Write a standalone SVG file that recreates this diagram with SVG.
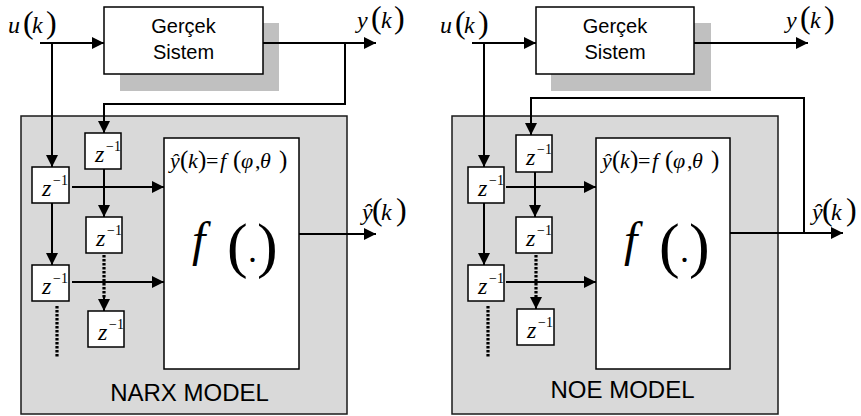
<svg xmlns="http://www.w3.org/2000/svg" width="861" height="416" viewBox="0 0 861 416">
<style>
.bg{fill:#ffffff}
.panel{fill:#d9d9d9;stroke:#1a1a1a;stroke-width:1.5}
.shadow{fill:#c0c0c0}
.box{fill:#ffffff;stroke:#000;stroke-width:1.5}
.ln{fill:none;stroke:#000;stroke-width:2}
.arr{marker-end:url(#ah)}
.dot{fill:none;stroke:#000;stroke-width:3.2;stroke-dasharray:2.4 1.6}
.sans{font-family:"Liberation Sans",Arial,sans-serif;fill:#000}
.mi{font-family:"Liberation Serif","Times New Roman",serif;font-style:italic;fill:#000}
.mu{font-family:"Liberation Serif","Times New Roman",serif;font-style:normal;fill:#000}
.lp{font-size:32px}
.fp{font-size:25px}
</style>
<defs>
<marker id="ah" markerUnits="userSpaceOnUse" markerWidth="12" markerHeight="12" refX="12" refY="6" orient="auto">
<path d="M0,0 L12,6 L0,12 Z" fill="#000"/>
</marker>
</defs>
<rect class="bg" x="0" y="0" width="861" height="416"/>

<!-- LEFT: NARX -->
<g id="narx-panel">
<rect class="panel" x="21" y="116" width="326" height="298"/>
<text class="sans" x="189.5" y="401" font-size="24" text-anchor="middle">NARX MODEL</text>
</g>
<g id="narx-system">
<rect class="shadow" x="120" y="23" width="159" height="68"/>
<rect class="box" x="104" y="7" width="159" height="67"/>
<text class="sans" x="183.5" y="33" font-size="20" text-anchor="middle">Gerçek</text>
<text class="sans" x="183.5" y="59" font-size="20" text-anchor="middle">Sistem</text>
</g>
<g id="narx-u-label">
<text y="33" font-size="24"><tspan class="mi" x="8">u</tspan><tspan class="mu lp" x="23">(</tspan><tspan class="mi" x="32">k</tspan><tspan class="mu lp" x="46">)</tspan></text>
</g>
<g id="narx-y-label">
<text y="28" font-size="24"><tspan class="mi" x="357">y</tspan><tspan class="mu lp" x="371">(</tspan><tspan class="mi" x="381">k</tspan><tspan class="mu lp" x="394">)</tspan></text>
</g>
<g id="narx-yhat-label">
<text y="220" font-size="24"><tspan class="mi" x="362">ŷ</tspan><tspan class="mu lp" x="372">(</tspan><tspan class="mi" x="381">k</tspan><tspan class="mu lp" x="396">)</tspan></text>
</g>

<g id="narx-connectors">
<path class="ln arr" d="M40,43 H104"/>
<path class="ln arr" d="M52,43 V167"/>
<path class="ln arr" d="M263,43 H376"/>
<path class="ln arr" d="M345,43 V104 H104 V133"/>
<path class="ln arr" d="M72,187 H164"/>
<path class="ln arr" d="M72,282 H164"/>
<path class="ln arr" d="M52,203 V265"/>
<path class="ln arr" d="M104,169 V217"/>
<path class="dot" d="M104,255 V300"/>
<path class="ln arr" d="M104,297 V311"/>
<path class="dot" d="M57,306 V357"/>
<path class="ln arr" d="M299,234 H376"/>
</g>

<g id="narx-f">
<rect class="box" x="164" y="138" width="135" height="231"/>
<text y="168" font-size="22"><tspan class="mi" x="170">ŷ</tspan><tspan class="mu fp" x="180">(</tspan><tspan class="mi" x="188">k</tspan><tspan class="mu fp" x="198">)</tspan><tspan class="mu" x="206">=</tspan><tspan class="mi" x="220">f</tspan><tspan class="mu fp" x="233">(</tspan><tspan class="mi" x="241">φ</tspan><tspan class="mu" x="255">,</tspan><tspan class="mi" x="260">θ</tspan><tspan class="mu fp" x="279">)</tspan></text>
<text y="256"><tspan class="mi" font-size="48" x="192">f</tspan><tspan class="mu" font-size="62" x="227" dy="10">(</tspan><tspan class="mu" font-size="36" x="248" dy="-4">.</tspan><tspan class="mu" font-size="62" x="257" dy="4">)</tspan></text>
</g>
<g id="narx-z1">
<rect class="box" x="85" y="133" width="36" height="36"/>
<text class="mi" x="95" y="162" font-size="24">z</text><text class="mu" x="106" y="151" font-size="14">−1</text>
</g>
<g id="narx-z2">
<rect class="box" x="32" y="167" width="37" height="36"/>
<text class="mi" x="42" y="196" font-size="24">z</text><text class="mu" x="53" y="185" font-size="14">−1</text>
</g>
<g id="narx-z3">
<rect class="box" x="86" y="217" width="36" height="36"/>
<text class="mi" x="96" y="246" font-size="24">z</text><text class="mu" x="107" y="235" font-size="14">−1</text>
</g>
<g id="narx-z4">
<rect class="box" x="32" y="265" width="37" height="36"/>
<text class="mi" x="42" y="294" font-size="24">z</text><text class="mu" x="53" y="283" font-size="14">−1</text>
</g>
<g id="narx-z5">
<rect class="box" x="88" y="311" width="36" height="36"/>
<text class="mi" x="98" y="340" font-size="24">z</text><text class="mu" x="109" y="329" font-size="14">−1</text>
</g>

<!-- RIGHT: NOE -->
<g id="noe-panel">
<rect class="panel" x="452" y="116" width="326" height="298"/>
<text class="sans" x="622.5" y="398" font-size="24" text-anchor="middle">NOE MODEL</text>
</g>
<g id="noe-system">
<rect class="shadow" x="551" y="23" width="160" height="68"/>
<rect class="box" x="536" y="7" width="158" height="67"/>
<text class="sans" x="615" y="33" font-size="20" text-anchor="middle">Gerçek</text>
<text class="sans" x="615" y="59" font-size="20" text-anchor="middle">Sistem</text>
</g>
<g id="noe-u-label">
<text y="33" font-size="24"><tspan class="mi" x="440">u</tspan><tspan class="mu lp" x="455">(</tspan><tspan class="mi" x="464">k</tspan><tspan class="mu lp" x="478">)</tspan></text>
</g>
<g id="noe-y-label">
<text y="28" font-size="24"><tspan class="mi" x="786">y</tspan><tspan class="mu lp" x="800">(</tspan><tspan class="mi" x="810">k</tspan><tspan class="mu lp" x="824">)</tspan></text>
</g>
<g id="noe-yhat-label">
<text y="220" font-size="24"><tspan class="mi" x="812">ŷ</tspan><tspan class="mu lp" x="822">(</tspan><tspan class="mi" x="831">k</tspan><tspan class="mu lp" x="846">)</tspan></text>
</g>

<g id="noe-connectors">
<path class="ln arr" d="M472,43 H536"/>
<path class="ln arr" d="M484,43 V167"/>
<path class="ln arr" d="M694,43 H808"/>
<path class="ln arr" d="M804,233 V98 H531 V135"/>
<path class="ln arr" d="M506,187 H596"/>
<path class="ln arr" d="M506,282 H596"/>
<path class="ln arr" d="M484,203 V265"/>
<path class="ln arr" d="M535,172 V217"/>
<path class="dot" d="M536,255 V298"/>
<path class="ln arr" d="M536,295 V309"/>
<path class="dot" d="M488,306 V357"/>
<path class="ln arr" d="M730,233 H843"/>
</g>

<g id="noe-f">
<rect class="box" x="596" y="138" width="134" height="231"/>
<text y="168" font-size="22"><tspan class="mi" x="602">ŷ</tspan><tspan class="mu fp" x="612">(</tspan><tspan class="mi" x="620">k</tspan><tspan class="mu fp" x="630">)</tspan><tspan class="mu" x="638">=</tspan><tspan class="mi" x="652">f</tspan><tspan class="mu fp" x="665">(</tspan><tspan class="mi" x="673">φ</tspan><tspan class="mu" x="687">,</tspan><tspan class="mi" x="692">θ</tspan><tspan class="mu fp" x="711">)</tspan></text>
<text y="256"><tspan class="mi" font-size="48" x="624">f</tspan><tspan class="mu" font-size="62" x="659" dy="10">(</tspan><tspan class="mu" font-size="36" x="680" dy="-4">.</tspan><tspan class="mu" font-size="62" x="689" dy="4">)</tspan></text>
</g>
<g id="noe-z1">
<rect class="box" x="516" y="135" width="36" height="37"/>
<text class="mi" x="526" y="165" font-size="24">z</text><text class="mu" x="537" y="154" font-size="14">−1</text>
</g>
<g id="noe-z2">
<rect class="box" x="468" y="167" width="36" height="36"/>
<text class="mi" x="478" y="196" font-size="24">z</text><text class="mu" x="489" y="185" font-size="14">−1</text>
</g>
<g id="noe-z3">
<rect class="box" x="516" y="217" width="36" height="36"/>
<text class="mi" x="526" y="246" font-size="24">z</text><text class="mu" x="537" y="235" font-size="14">−1</text>
</g>
<g id="noe-z4">
<rect class="box" x="468" y="265" width="36" height="36"/>
<text class="mi" x="478" y="294" font-size="24">z</text><text class="mu" x="489" y="283" font-size="14">−1</text>
</g>
<g id="noe-z5">
<rect class="box" x="517" y="309" width="37" height="36"/>
<text class="mi" x="527" y="338" font-size="24">z</text><text class="mu" x="538" y="327" font-size="14">−1</text>
</g>
</svg>
